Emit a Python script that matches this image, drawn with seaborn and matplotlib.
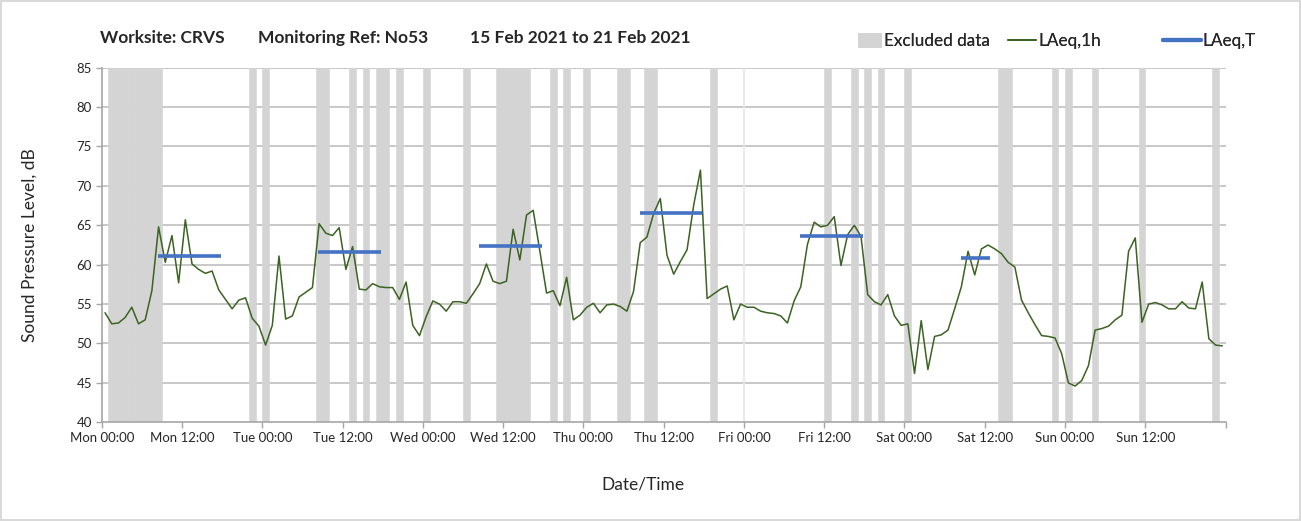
import numpy as np
import pandas as pd
import matplotlib.pyplot as plt
import seaborn as sns
from matplotlib.patches import Patch
from matplotlib.lines import Line2D

# hourly LAeq,1h readings (dB), Mon 00:00 -> Sun 23:00
laeq_1h = [
    53.9, 52.5, 52.6, 53.3, 54.6, 52.5, 53.0, 56.7, 64.8, 60.3, 63.7, 57.7,
    65.7, 60.1, 59.4, 58.9, 59.2, 56.8, 55.6, 54.4, 55.5, 55.8, 53.2, 52.2,
    49.8, 52.3, 61.1, 53.1, 53.5, 55.9, 56.5, 57.1, 65.2, 64.0, 63.7, 64.7,
    59.4, 62.3, 56.9, 56.8, 57.6, 57.2, 57.1, 57.1, 55.6, 57.8, 52.3, 51.0,
    53.4, 55.4, 55.0, 54.1, 55.3, 55.3, 55.1, 56.3, 57.6, 60.1, 57.9, 57.6,
    57.9, 64.5, 60.6, 66.3, 66.9, 61.7, 56.4, 56.7, 54.8, 58.4, 53.0, 53.6,
    54.6, 55.1, 53.9, 54.9, 55.0, 54.7, 54.1, 56.6, 62.8, 63.5, 66.5, 68.4,
    61.2, 58.8, 60.4, 61.9, 67.6, 72.0, 55.7, 56.3, 56.9, 57.3, 53.0, 55.0,
    54.6, 54.6, 54.1, 53.9, 53.8, 53.5, 52.6, 55.4, 57.2, 62.6, 65.4, 64.8,
    65.0, 66.1, 59.9, 63.8, 65.0, 63.6, 56.2, 55.3, 54.9, 56.2, 53.5, 52.3,
    52.5, 46.2, 52.9, 46.7, 50.9, 51.1, 51.7, 54.4, 57.2, 61.7, 58.7, 62.0,
    62.5, 62.0, 61.4, 60.3, 59.7, 55.5, 53.9, 52.4, 51.0, 50.9, 50.7, 48.7,
    45.0, 44.6, 45.3, 47.2, 51.7, 51.9, 52.2, 53.0, 53.6, 61.7, 63.4, 52.7,
    55.0, 55.2, 54.9, 54.4, 54.4, 55.3, 54.5, 54.4, 57.8, 50.6, 49.8, 49.7,
]

# hours (index into laeq_1h) flagged as excluded
excluded_hours = [1, 2, 3, 4, 5, 6, 7, 8, 22, 24, 32, 33, 37, 39, 41, 42, 44,
                  48, 54, 59, 60, 61, 62, 63, 67, 69, 72, 77, 78, 81, 82, 91,
                  108, 112, 114, 116, 120, 134, 135, 142, 144, 148, 155, 166]

# LAeq,T over the working period of each day
leq_day = [0, 1, 2, 3, 4, 5]
leq_values = [61.1, 61.6, 62.4, 66.5, 63.6, 60.9]
leq_start = [8, 8, 8, 8, 8, 8]
leq_end = [18, 18, 18, 18, 18, 13]

day_names = ["Mon", "Tue", "Wed", "Thu", "Fri", "Sat", "Sun"]

df = pd.DataFrame({"hour": np.arange(len(laeq_1h)) + 0.5, "laeq": laeq_1h})

sns.set_theme(style="white")
plt.rcParams["font.family"] = ["Lato", "DejaVu Sans"]

grey = "#d4d4d4"
green = "#3b6321"
blue = "#4472c4"

fig = plt.figure(figsize=(13.01, 5.21), dpi=100)
fig.patch.set_edgecolor("#d9d9d9")
fig.patch.set_linewidth(1.5)
ax = fig.add_axes([101.7 / 1301, 1 - 422.3 / 521, (1225.6 - 101.7) / 1301, (422.3 - 67.7) / 521])

# excluded data columns
ax.bar(np.array(excluded_hours) + 0.5, 45, bottom=40, width=1.0,
       color=grey, edgecolor=grey, linewidth=0.4, zorder=1)

# horizontal grid
for v in range(45, 90, 5):
    ax.axhline(v, color="#bfbfbf", lw=1.2, zorder=0.5)
ax.axvline(96, color="#e6e6e6", lw=1.2, zorder=0.5)

sns.lineplot(data=df, x="hour", y="laeq", ax=ax, color=green, lw=1.1, zorder=3)

for d, v, s, e in zip(leq_day, leq_values, leq_start, leq_end):
    ax.hlines(v, d * 24 + s + 0.4, d * 24 + e - 0.2, color=blue, lw=2.6, zorder=4)

ax.set_xlim(0, 168)
ax.set_ylim(40, 85)
xt = list(range(0, 169, 12))
xl = [f"{day_names[t // 24]} {t % 24:02d}:00" if t < 168 else "" for t in xt]
ax.set_xticks(xt)
ax.set_xticklabels(xl)
ax.set_yticks(range(40, 90, 5))
ax.set_xlabel("")
ax.set_ylabel("")
ax.tick_params(axis="both", labelsize=9.5, colors="#a6a6a6", labelcolor="#262626",
               length=4, width=1, direction="out", bottom=True, left=True)
ax.tick_params(axis="x", pad=3)
ax.tick_params(axis="y", pad=3)
for sp in ["top", "right"]:
    ax.spines[sp].set_visible(False)
for sp in ["left", "bottom"]:
    ax.spines[sp].set_color("#a6a6a6")
    ax.spines[sp].set_linewidth(1.2)

fig.text(30 / 1301, 1 - 245 / 521, "Sound Pressure Level, dB", rotation=90,
         ha="center", va="center", fontsize=12.5, color="#262626")
fig.text(643 / 1301, 1 - 485 / 521, "Date/Time", ha="center", va="center",
         fontsize=12.5, color="#262626")

ty = 1 - 38 / 521
fig.text(100 / 1301, ty, "Worksite: CRVS", fontsize=12.5, fontweight="bold", va="center")
fig.text(258 / 1301, ty, "Monitoring Ref: No53", fontsize=12.5, fontweight="bold", va="center")
fig.text(470 / 1301, ty, "15 Feb 2021 to 21 Feb 2021", fontsize=12.5, fontweight="bold", va="center")

# legend entries placed one by one, like the Excel legend
entries = [
    (Patch(facecolor=grey, edgecolor="none"), "Excluded data", 858, 1.4),
    (Line2D([], [], color=green, lw=1.3), "LAeq,1h", 1008, 1.65),
    (Line2D([], [], color=blue, lw=3), "LAeq,T", 1163, 2.2),
]
for h, lab, x0, hl in entries:
    leg = fig.legend([h], [lab], loc="center left",
                     bbox_to_anchor=(x0 / 1301, 1 - 41 / 521), frameon=False,
                     fontsize=12.3, handlelength=hl, handleheight=1.0,
                     handletextpad=0.1, borderaxespad=0, borderpad=0)
    fig.add_artist(leg)

fig.savefig("out.png", dpi=100, edgecolor=fig.get_edgecolor())
